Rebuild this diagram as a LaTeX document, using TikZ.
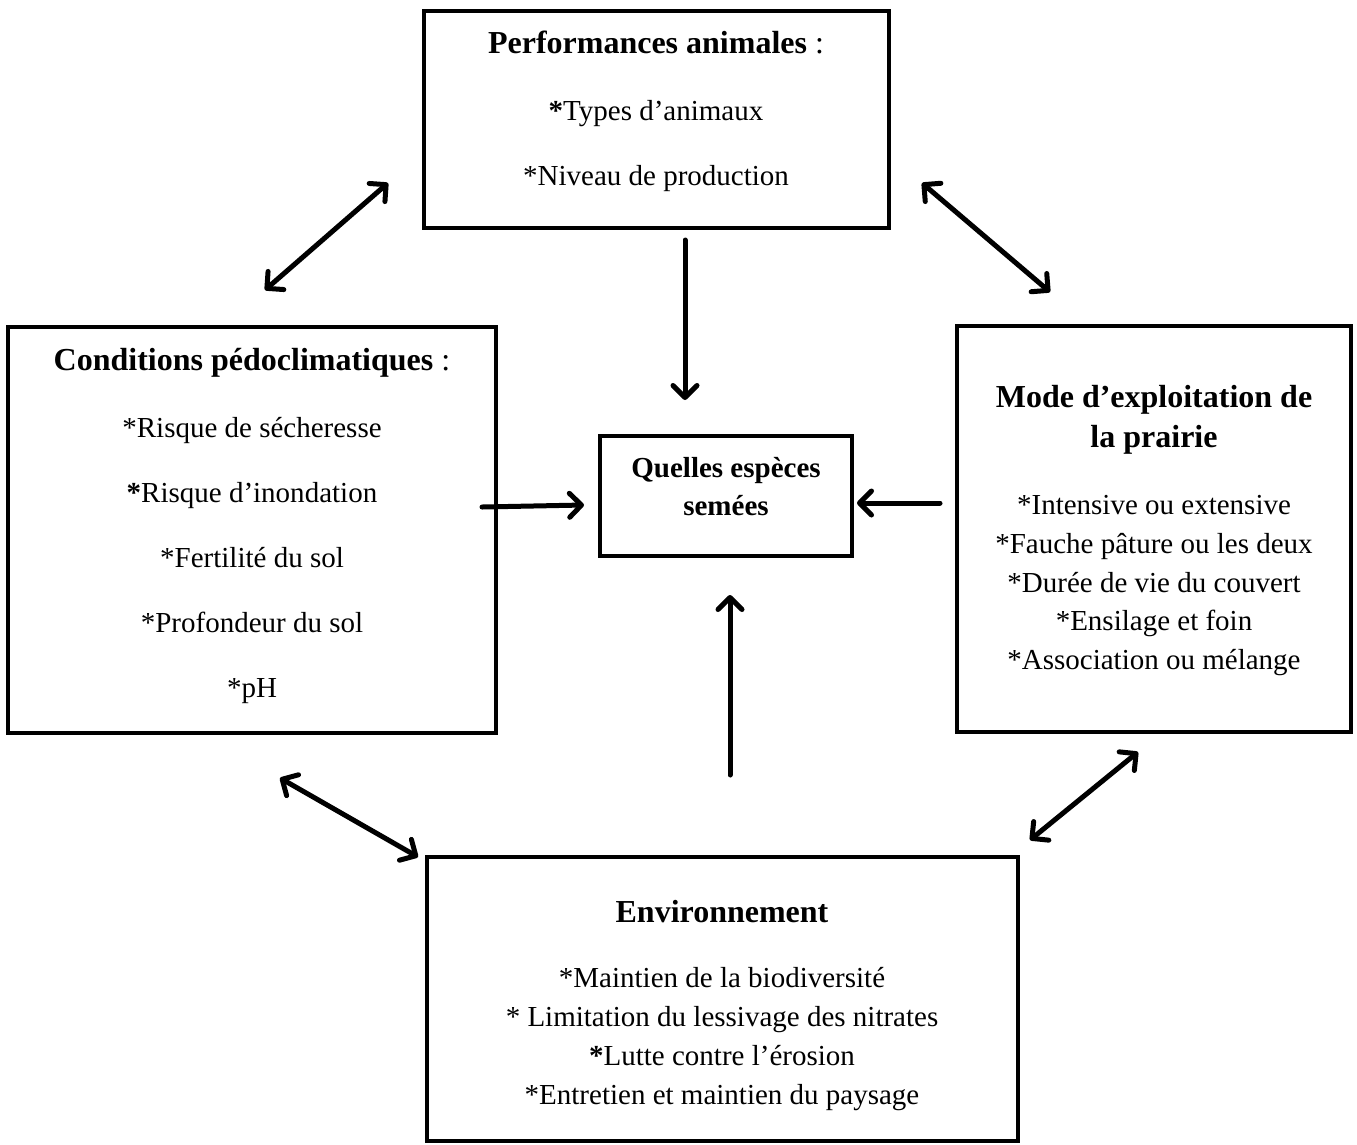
\documentclass[tikz,border=0pt]{standalone}
\usepackage{fontspec}
\setmainfont{Liberation Serif}
\usetikzlibrary{arrows.meta}
\begin{document}
\begin{tikzpicture}[x=1pt,y=-1pt,
  box/.style={draw, line width=4.5pt, inner sep=0pt},
  txt/.style={anchor=base, inner sep=0pt, font=\fontsize{29}{35}\selectfont},
  htxt/.style={anchor=base, inner sep=0pt, font=\fontsize{32}{38}\selectfont},
  ctxt/.style={anchor=base, inner sep=0pt, font=\fontsize{29}{35}\selectfont\bfseries},
  tip/.tip={Straight Barb[length=12pt,width=24pt,round]},
  conn/.style={line width=5pt, line cap=round, -tip},
  bconn/.style={line width=5pt, line cap=round, tip-tip},
]
\useasboundingbox (0,0) rectangle (1357,1144);

% boxes
\node[box, minimum width=465pt, minimum height=217pt] (perf) at (656.5,119.5) {};
\node[box, minimum width=488pt, minimum height=406pt] (cond) at (252,530) {};
\node[box, minimum width=252pt, minimum height=120pt] (ques) at (726,496) {};
\node[box, minimum width=394pt, minimum height=406pt] (mode) at (1154,529) {};
\node[box, minimum width=591pt, minimum height=284pt] (env) at (722.5,999) {};

% top box text
\node[htxt] (p0) at (656,53) {\textbf{Performances animales} :};
\node[txt] (p1) at (656,120) {\textbf{*}Types d’animaux};
\node[txt] (p2) at (656,185) {*Niveau de production};

% left box text
\node[htxt] (c0) at (252,370) {\textbf{Conditions pédoclimatiques} :};
\node[txt] (c1) at (252,437) {*Risque de sécheresse};
\node[txt] (c2) at (252,502) {\textbf{*}Risque d’inondation};
\node[txt] (c3) at (252,567) {*Fertilité du sol};
\node[txt] (c4) at (252,632) {*Profondeur du sol};
\node[txt] (c5) at (252,697) {*pH};

% center box text
\node[ctxt] (q0) at (726,477) {Quelles espèces};
\node[ctxt] (q1) at (726,515) {semées};

% right box text
\node[htxt, font=\fontsize{32}{38}\selectfont\bfseries] (m0) at (1154,407) {Mode d’exploitation de};
\node[htxt, font=\fontsize{32}{38}\selectfont\bfseries] (m1) at (1154,447) {la prairie};
\node[txt] (m2) at (1154,514) {*Intensive ou extensive};
\node[txt] (m3) at (1154,553) {*Fauche pâture ou les deux};
\node[txt] (m4) at (1154,592) {*Durée de vie du couvert};
\node[txt] (m5) at (1154,630) {*Ensilage et foin};
\node[txt] (m6) at (1154,669) {*Association ou mélange};

% bottom box text
\node[htxt, font=\fontsize{32}{38}\selectfont\bfseries] (e0) at (722,922) {Environnement};
\node[txt] (e1) at (722,987) {*Maintien de la biodiversité};
\node[txt] (e2) at (722,1026) {* Limitation du lessivage des nitrates};
\node[txt] (e3) at (722,1065) {\textbf{*}Lutte contre l’érosion};
\node[txt] (e4) at (722,1104) {*Entretien et maintien du paysage};

% connector end points
\coordinate (a1s) at (265,290); \coordinate (a1e) at (388,183);
\coordinate (a2s) at (922,183); \coordinate (a2e) at (1050,292);
\coordinate (a3s) at (280,778); \coordinate (a3e) at (418,857);
\coordinate (a4s) at (1030,840); \coordinate (a4e) at (1138,752);
\coordinate (dns) at (685,240); \coordinate (dne) at (685,400);
\coordinate (ups) at (730,775); \coordinate (upe) at (730,595);
\coordinate (lfs) at (482,507); \coordinate (lfe) at (584,505);
\coordinate (rts) at (940,503); \coordinate (rte) at (857,503);

\draw[bconn] (a1s) -- (a1e);
\draw[bconn] (a2s) -- (a2e);
\draw[bconn] (a3s) -- (a3e);
\draw[bconn] (a4s) -- (a4e);
\draw[conn] (dns) -- (dne);
\draw[conn] (ups) -- (upe);
\draw[conn] (lfs) -- (lfe);
\draw[conn] (rts) -- (rte);
\end{tikzpicture}
\end{document}
